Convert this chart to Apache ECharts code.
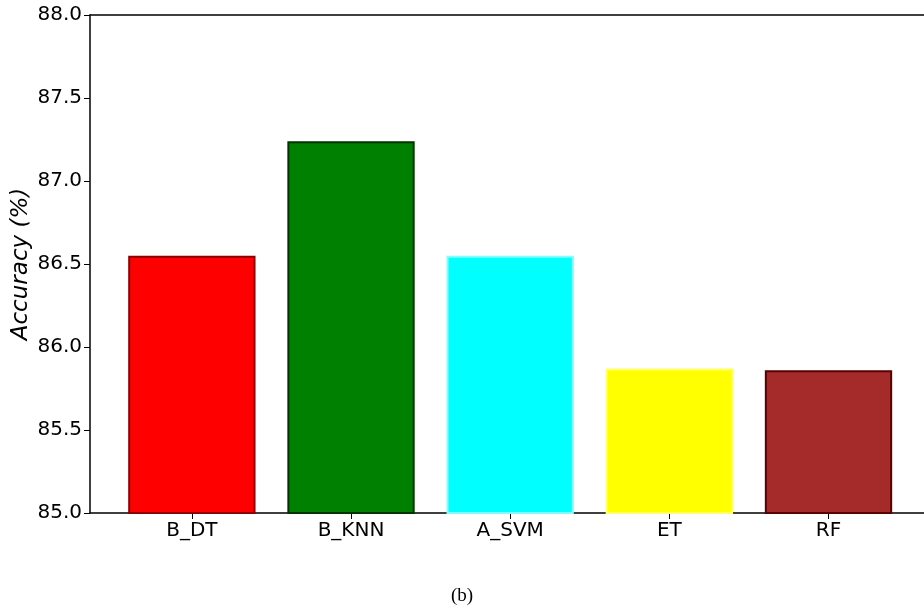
<!DOCTYPE html>
<html>
<head>
<meta charset="utf-8">
<script src="https://cdn.jsdelivr.net/npm/echarts@6/dist/echarts.min.js"></script>
<style>
  html, body { margin: 0; padding: 0; background: #fff; }
  #chart { width: 924px; height: 613px; }
</style>
</head>
<body>
<div id="chart"></div>
<script>
// Classifier accuracy comparison
const categories = ['B_DT', 'B_KNN', 'A_SVM', 'ET', 'RF'];
const accuracy = [86.55, 87.24, 86.55, 85.87, 85.86];
const fillColors = ['#ff0000', '#008000', '#00ffff', '#ffff00', '#a52a2a'];
const edgeColors = ['#8b0000', '#003300', '#7fffff', '#ffff66', '#5a0000'];
const yTicks = [85.0, 85.5, 86.0, 86.5, 87.0, 87.5, 88.0];

// x range: 5% margin on the left of the bars; the frame runs to the page's right edge
const xMin = -0.64, xMax = 4.6;
const gridLeft = 90, gridWidth = 834;
const unitPx = gridWidth / (xMax - xMin);

const chart = echarts.init(document.getElementById('chart'));
const font = 'DejaVu Sans';
const tickIdx = categories.map((_, i) => i);

chart.setOption({
  animation: false,
  backgroundColor: '#fff',
  grid: {
    left: gridLeft, top: 15, width: gridWidth, height: 498, show: false,
    outerBoundsMode: 'none', containLabel: false
  },
  title: {
    text: '(b)', left: 'center', top: 582,
    textStyle: { fontFamily: 'Liberation Serif', fontSize: 19, fontWeight: 'normal', color: '#000' }
  },
  xAxis: [{
    type: 'value', min: xMin, max: xMax, position: 'bottom',
    splitLine: { show: false },
    axisLine: { show: true, onZero: false, lineStyle: { color: '#000', width: 1.5 } },
    axisTick: { show: true, customValues: tickIdx, length: 6, lineStyle: { color: '#000', width: 1 } },
    axisLabel: {
      customValues: tickIdx,
      formatter: v => categories[Math.round(v)] || '',
      color: '#000', fontFamily: font, fontSize: 20, margin: 8
    }
  }, {
    // top frame line
    type: 'value', min: xMin, max: xMax, position: 'top',
    splitLine: { show: false },
    axisLine: { show: true, onZero: false, lineStyle: { color: '#000', width: 1.5 } },
    axisTick: { show: false }, axisLabel: { show: false }
  }],
  yAxis: {
    type: 'value', min: yTicks[0], max: yTicks[yTicks.length - 1], interval: 0.5,
    name: 'Accuracy (%)', nameLocation: 'middle', nameGap: 57, nameMoveOverlap: false,
    nameTextStyle: { fontFamily: font, fontSize: 23, fontStyle: 'italic', color: '#000' },
    splitLine: { show: false },
    axisLine: { show: true, onZero: false, lineStyle: { color: '#000', width: 1.5 } },
    axisTick: { show: true, length: 6, lineStyle: { color: '#000', width: 1 } },
    axisLabel: { formatter: v => v.toFixed(1), color: '#000', fontFamily: font, fontSize: 20, margin: 8 }
  },
  series: [{
    type: 'bar',
    barWidth: 0.8 * unitPx,
    clip: true,
    data: accuracy.map((v, i) => ({
      value: [i, v],
      itemStyle: { color: fillColors[i], borderColor: edgeColors[i], borderWidth: 2 }
    }))
  }]
});
</script>
</body>
</html>
